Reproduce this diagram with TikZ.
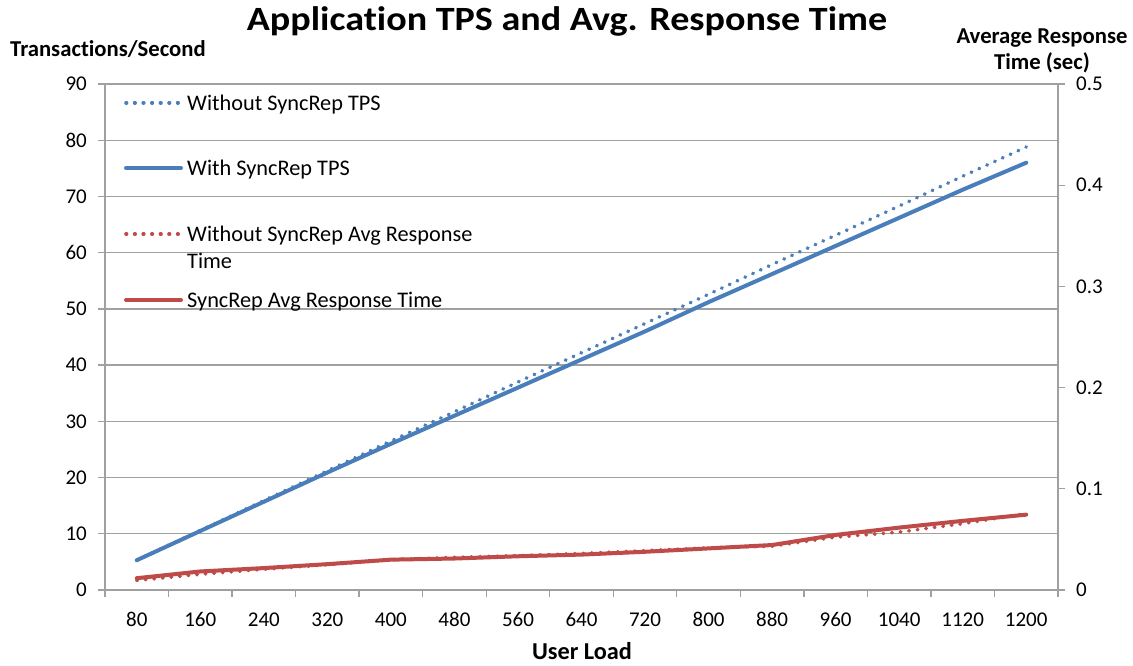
\documentclass[tikz,border=0pt]{standalone}
\usepackage{fontspec}
\setmainfont{Carlito}[Ligatures=NoCommon]
\definecolor{serblue}{HTML}{4A7EBB}
\definecolor{serred}{HTML}{BE4B48}
\definecolor{gridgray}{HTML}{A0A0A0}
\begin{document}
\begin{tikzpicture}[x=1pt,y=-1pt,
  gridline/.style={draw=gridgray, line width=1.3pt},
  axisline/.style={draw=gridgray, line width=1.3pt},
  solidser/.style={line width=4pt, line cap=round, line join=round},
  dotser/.style={line width=3.6pt, line cap=round, dash pattern=on 0.6pt off 8pt},
  ticklab/.style={font=\fontsize{21}{24}\selectfont, text=black, inner sep=0pt},
  legtext/.style={font=\fontsize{22.3}{26}\selectfont, anchor=base west, inner sep=0pt},
  boldlab/.style={font=\bfseries\fontsize{22.7}{27}\selectfont, inner sep=0pt}]
\useasboundingbox (0,0) rectangle (1133,665);
\fill[white] (0,0) rectangle (1133,665);
% gridlines and left ticks
\foreach \v in {1,...,9} {
  \draw[gridline] (98,{590-56.222*\v}) -- (1058,{590-56.222*\v});
}
% x axis
\draw[axisline] (98,590) -- (1058,590);
% left and right axis lines
\draw[axisline] (105,84) -- (105,597);
\draw[axisline] (1058,84) -- (1058,597);
% category ticks
\foreach \i in {1,...,14} {
  \draw[axisline] ({105+63.533*\i},590) -- ({105+63.533*\i},597);
}
% right ticks
\foreach \k in {0,...,5} {
  \draw[axisline] (1058,{590-101.2*\k}) -- (1065,{590-101.2*\k});
}
% left tick labels
\foreach \v [count=\n] in {0,10,...,90} {
  \node[ticklab, anchor=east] (yl\n) at (87,{590-5.6222*\v}) {\v};
}
% right tick labels
\foreach \t [count=\k from 0] in {0,0.1,0.2,0.3,0.4,0.5} {
  \node[ticklab, anchor=west] (yr\k) at (1076,{590-101.2*\k}) {\t};
}
% category labels
\foreach \c [count=\i from 0] in {80,160,240,320,400,480,560,640,720,800,880,960,1040,1120,1200} {
  \node[ticklab, anchor=base] (xl\i) at ({136.77+63.533*\i},626) {\c};
}
% titles
\node[font=\bfseries\fontsize{34}{38}\selectfont, anchor=base, inner sep=0pt, transform shape, xscale=1.12] (title) at (567,30) {Application TPS and Avg. Response Time};
\node[boldlab, anchor=base west] (ylab) at (10,56) {Transactions/Second};
\node[boldlab, anchor=base] (y2lab1) at (1042,43.3) {Average Response};
\node[boldlab, anchor=base] (y2lab2) at (1042,69) {Time (sec)};
\node[font=\bfseries\fontsize{24.3}{29}\selectfont, anchor=base, inner sep=0pt] (xlab) at (582,659) {User Load};
% data
\begin{scope}[shift={(136.77pt,-590pt)}, x=63.533pt, y=5.6222pt]
  \draw[serblue, dotser] plot coordinates {(0,5.3) (1,10.6) (2,15.9) (3,21.2) (4,26.5) (5,31.7) (6,37.0) (7,42.2) (8,47.4) (9,52.6) (10,57.9) (11,63.1) (12,68.3) (13,73.6) (14,78.8)};
  \draw[serblue, solidser] plot coordinates {(0,5.3) (1,10.5) (2,15.7) (3,20.9) (4,26.0) (5,31.0) (6,36.0) (7,41.0) (8,46.0) (9,51.2) (10,56.2) (11,61.2) (12,66.2) (13,71.2) (14,76.0)};
  \draw[serred, dotser] plot coordinates {(0,1.7) (1,2.8) (2,3.7) (3,4.5) (4,5.4) (5,5.8) (6,6.1) (7,6.5) (8,7.0) (9,7.5) (10,7.8) (11,9.4) (12,10.3) (13,11.8) (14,13.6)};
  \draw[serred, solidser] plot coordinates {(0,2.1) (1,3.3) (2,3.9) (3,4.6) (4,5.4) (5,5.6) (6,6.0) (7,6.3) (8,6.8) (9,7.4) (10,8.0) (11,9.8) (12,11.1) (13,12.3) (14,13.4)};
\end{scope}
% legend
\draw[serblue, dotser] (126,102.7) -- (180,102.7);
\node[legtext] (leg1) at (187,110.5) {Without SyncRep TPS};
\draw[serblue, solidser] (126,168) -- (181,168);
\node[legtext] (leg2) at (187,175) {With SyncRep TPS};
\draw[serred, dotser] (126,234) -- (180,234);
\node[legtext] (leg3a) at (187,241.7) {Without SyncRep Avg Response};
\node[legtext] (leg3b) at (187,268) {Time};
\draw[serred, solidser] (126,300) -- (181,300);
\node[legtext] (leg4) at (187,307.7) {SyncRep Avg Response Time};
\end{tikzpicture}
\end{document}
